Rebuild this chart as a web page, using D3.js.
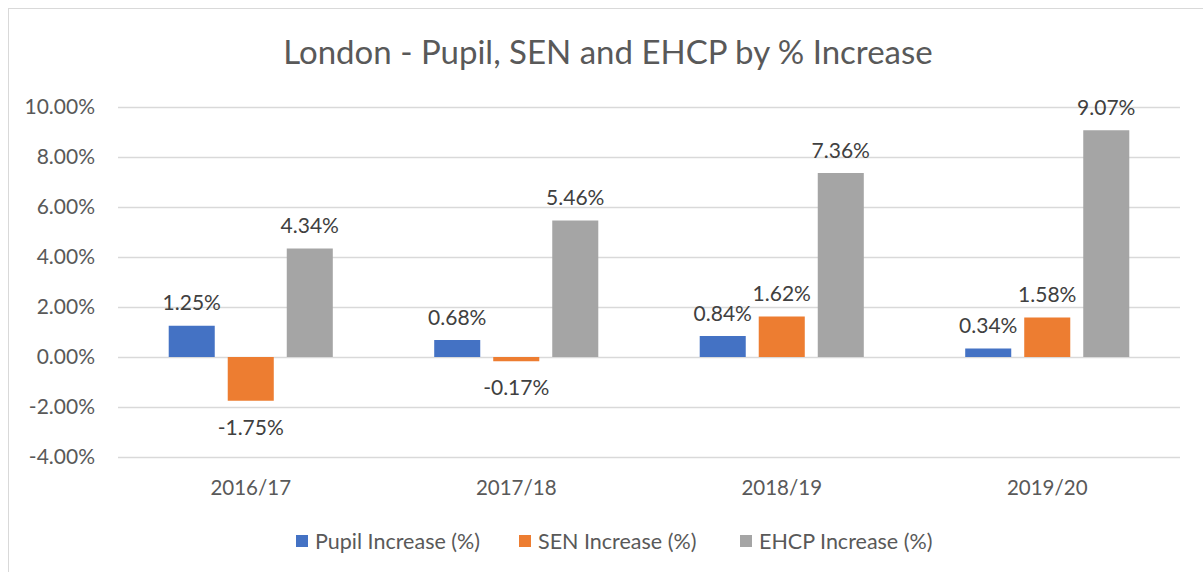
<!DOCTYPE html>
<html>
<head>
<meta charset="utf-8">
<script src="https://cdn.jsdelivr.net/npm/d3@7"></script>
<style>
    body { margin: 0; background: #fff; }
    svg text { font-family: Lato, "Liberation Sans", sans-serif; }
</style>
</head>
<body>
<svg id="chart" width="1203" height="572"></svg>
<script>
"use strict";

const years = ["2016/17", "2017/18", "2018/19", "2019/20"];
const seriesNames = ["Pupil Increase (%)", "SEN Increase (%)", "EHCP Increase (%)"];
const pupil = [1.25, 0.68, 0.84, 0.34];
const sen = [-1.75, -0.17, 1.62, 1.58];
const ehcp = [4.34, 5.46, 7.36, 9.07];
const yTicks = [-4, -2, 0, 2, 4, 6, 8, 10];
const colours = ["#4472c4", "#ed7d31", "#a5a5a5"];

/**
 * Percent text with a plain hyphen for the minus sign
 *
 * @param {Number} v value in percent
 * @return {String}
 */
function pct(v)
{
    return d3.format(".2f")(v).replace("\u2212", "-") + "%";
}

/**
 * Draws the grouped bar chart
 */
function draw()
{
    let svg = d3.select("#chart");
    let series = [pupil, sen, ehcp];

    // frame, only top and left edges are inside the picture
    svg.append("rect")
       .attr("x", 8.5).attr("y", 8.5)
       .attr("width", 1220).attr("height", 600)
       .attr("fill", "none")
       .attr("stroke", "#d9d9d9");

    svg.append("text")
       .attr("x", 608).attr("y", 64)
       .attr("text-anchor", "middle")
       .attr("font-size", 33)
       .attr("fill", "#595959")
       .text("London - Pupil, SEN and EHCP by % Increase");

    let x0 = d3.scaleBand()
               .domain(years)
               .range([118, 1180])
               .paddingInner(0.382)
               .paddingOuter(0.191);
    let x1 = d3.scaleBand()
               .domain(d3.range(series.length))
               .range([0, x0.bandwidth()])
               .paddingInner(0.22);
    let y = d3.scaleLinear()
              .domain([-4, 10])
              .range([457, 107]);

    // gridlines
    svg.append("g")
       .selectAll("line")
       .data(yTicks)
       .join("line")
       .attr("x1", 118).attr("x2", 1180)
       .attr("y1", (d)=>{return Math.round(y(d)) + 0.5;})
       .attr("y2", (d)=>{return Math.round(y(d)) + 0.5;})
       .attr("stroke", "#d9d9d9")
       .attr("stroke-width", 1.5);

    let yAxis = svg.append("g")
                   .attr("transform", "translate(98,0)")
                   .call(d3.axisLeft(y).tickValues(yTicks).tickSize(0).tickFormat(pct));
    yAxis.select(".domain").remove();
    yAxis.selectAll("text")
         .attr("font-size", 21)
         .attr("fill", "#595959");

    let xAxis = svg.append("g")
                   .attr("transform", "translate(0,477)")
                   .call(d3.axisBottom(x0).tickSize(0));
    xAxis.select(".domain").remove();
    xAxis.selectAll("text")
         .attr("font-size", 20.5)
         .attr("fill", "#595959");

    let groups = svg.append("g")
                    .selectAll("g")
                    .data(years)
                    .join("g")
                    .attr("transform", (d)=>{return "translate(" + x0(d) + ",0)";});

    let cells = groups.selectAll("g")
                      .data((d, i)=>{return series.map((s, k)=>{return {k: k, v: s[i]};});})
                      .join("g");

    cells.append("rect")
         .attr("x", (d)=>{return x1(d.k);})
         .attr("y", (d)=>{return y(Math.max(0, d.v));})
         .attr("width", x1.bandwidth())
         .attr("height", (d)=>{return Math.abs(y(d.v) - y(0));})
         .attr("fill", (d)=>{return colours[d.k];});

    cells.append("text")
         .attr("x", (d)=>{return x1(d.k) + x1.bandwidth() / 2;})
         .attr("y", (d)=>{return d.v >= 0 ? y(d.v) - 15.5 : y(d.v) + 34;})
         .attr("text-anchor", "middle")
         .attr("font-size", 21)
         .attr("fill", "#404040")
         .text((d)=>{return pct(d.v);});

    // legend
    let legendX = [296, 519, 740];
    let legend = svg.append("g")
                    .selectAll("g")
                    .data(seriesNames)
                    .join("g")
                    .attr("transform", (d, i)=>{return "translate(" + legendX[i] + ",541)";});
    legend.append("rect")
          .attr("x", 0).attr("y", -6)
          .attr("width", 12).attr("height", 12)
          .attr("fill", (d, i)=>{return colours[i];});
    legend.append("text")
          .attr("x", 19).attr("y", 7.5)
          .attr("font-size", 21.5)
          .attr("fill", "#595959")
          .text((d)=>{return d;});
}

draw();
</script>
</body>
</html>
